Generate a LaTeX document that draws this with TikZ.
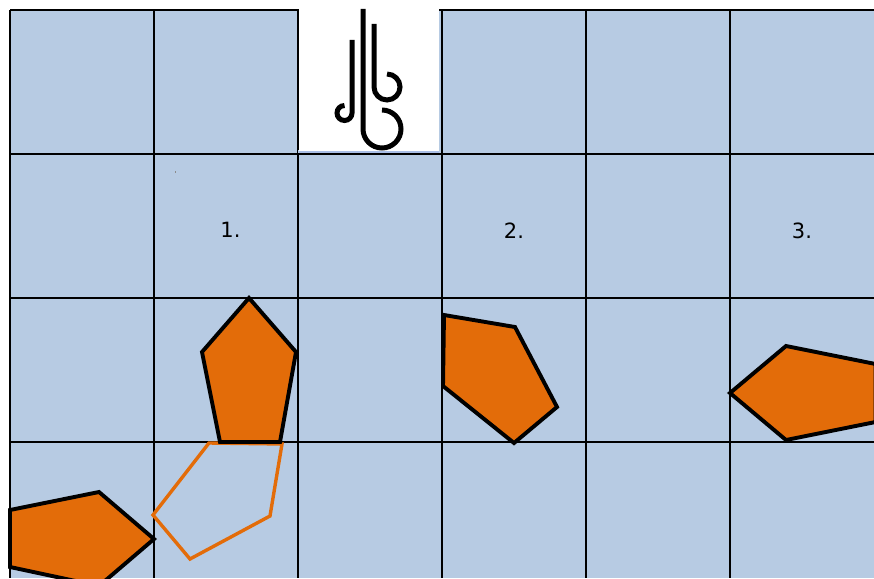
\documentclass[tikz,border=0pt]{standalone}
\usepackage{fontspec}
\setmainfont{DejaVu Sans}
\definecolor{cellblue}{HTML}{B7CBE3}
\definecolor{penta}{HTML}{E36C09}
\definecolor{stripe}{HTML}{A9BEE6}
\tikzset{
  gridline/.style={black,line width=1.9pt},
  shapeblack/.style={draw=black,fill=penta,line width=3.9pt,miter limit=10},
  ghost/.style={draw=penta,line width=3.4pt},
  glyph/.style={black,line width=5pt},
  numlabel/.style={font=\fontsize{21}{25}\selectfont,inner sep=0pt},
}
\begin{document}
\begin{tikzpicture}[x=1pt,y=-1pt]
\useasboundingbox (0,0) rectangle (874,578);
\begin{scope}
\clip (0,0) rectangle (874,578);
\fill[cellblue] (10,10) rectangle (874,578);
\foreach \x in {10,154,298,442,586,730} \draw[gridline] (\x,10) -- (\x,578);
\foreach \y in {10,154,298,442} \draw[gridline] (10,\y) -- (874,\y);
\fill[cellblue] (298,150) rectangle (441,153);
\fill[white] (298.5,0) rectangle (439,150.5);
\fill[stripe] (298.5,150.5) rectangle (439,152.5);
\draw[glyph] (363,9) -- (363,129) arc[start angle=180,end angle=-90,radius=19];
\draw[glyph] (374,24) -- (374,87) arc[start angle=180,end angle=-90,radius=13];
\draw[glyph] (352,40) -- (352,113) arc[start angle=0,end angle=270,radius=7.5];
\draw[ghost] (209,443) -- (282,444) -- (270,516) -- (190,559) -- (153,515) -- cycle;
\draw[shapeblack] (249,298) -- (296,352) -- (280,442) -- (220,442) -- (202,352) -- cycle;
\draw[shapeblack] (444,315) -- (515,327) -- (557,407) -- (514,443) -- (443,386) -- cycle;
\draw[shapeblack] (786,346) -- (875.5,364) -- (875.5,422) -- (786,440) -- (730,393) -- cycle;
\draw[shapeblack] (10,510) -- (99,492) -- (154,539) -- (99,586) -- (10,567) -- cycle;
\fill[black!45] (174.5,171) rectangle (176,173);
\end{scope}
\node[numlabel] (one) at (230.5,230) {1.};
\node[numlabel] (two) at (514,231) {2.};
\node[numlabel] (three) at (802,231) {3.};
\end{tikzpicture}
\end{document}
